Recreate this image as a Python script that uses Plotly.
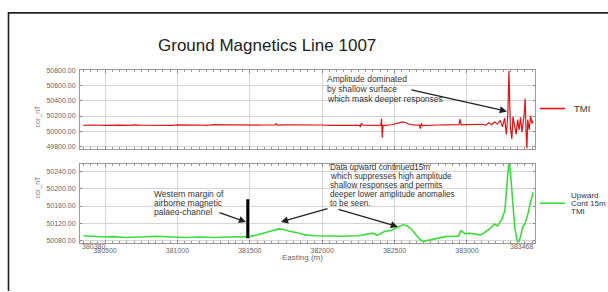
import plotly.graph_objects as go

# ---------------- data ----------------
tmi_easting = [380350, 380420, 380500, 380560, 380600, 380660, 380700, 380760, 380800, 380860,
               380900, 380960, 381000, 381050, 381100, 381150, 381200, 381250, 381300, 381350,
               381400, 381450, 381500, 381550, 381600, 381650, 381675, 381682, 381690, 381750,
               381800, 381850, 381900, 381950, 382000, 382050, 382100, 382150, 382200, 382240,
               382258, 382264, 382270, 382280, 382320, 382350, 382390, 382405, 382410, 382415,
               382420, 382450, 382480, 382530, 382555, 382580, 382600, 382630, 382660, 382672,
               382678, 382685, 382692, 382720, 382750, 382800, 382850, 382900, 382945, 382952,
               382960, 383000, 383050, 383080, 383100, 383130, 383150, 383170, 383190, 383210,
               383230, 383245, 383260, 383272, 383282, 383290, 383300, 383310, 383318, 383330,
               383340, 383350, 383360, 383370, 383380, 383395, 383402, 383408, 383414, 383420,
               383430, 383440, 383450, 383456]
tmi_values = [50078, 50082, 50076, 50081, 50080, 50077, 50083, 50079, 50078, 50082,
              50081, 50077, 50084, 50079, 50081, 50082, 50078, 50086, 50080, 50083,
              50083, 50079, 50078, 50081, 50082, 50079, 50084, 50100, 50080, 50083,
              50084, 50080, 50079, 50083, 50082, 50078, 50078, 50082, 50083, 50080,
              50076, 50055, 50106, 50080, 50082, 50083, 50081, 50078, 50165, 49915,
              50075, 50083, 50085, 50110, 50124, 50112, 50092, 50084, 50085, 50080,
              50035, 50104, 50075, 50079, 50080, 50082, 50083, 50086, 50085, 50160,
              50085, 50088, 50090, 50096, 50092, 50080, 50112, 50086, 50122, 50095,
              50142, 50058, 50172, 49958, 50205, 50790, 50050, 49900, 50192, 50060,
              49960, 50152, 50018, 50182, 49988, 50222, 50431, 50000, 49778, 50152,
              50020, 50202, 50100, 50140]

up_easting = [380350, 380420, 380500, 380560, 380650, 380700, 380750, 380850, 380950, 381050,
              381150, 381250, 381350, 381450, 381500, 381550, 381600, 381650, 381700, 381730,
              381780, 381830, 381880, 381950, 382050, 382150, 382250, 382300, 382350, 382380,
              382400, 382430, 382480, 382530, 382560, 382590, 382620, 382650, 382680, 382700,
              382750, 382800, 382850, 382900, 382940, 382960, 382985, 383020, 383060, 383090,
              383120, 383160, 383190, 383210, 383240, 383262, 383280, 383290, 383300, 383315,
              383330, 383345, 383360, 383372, 383385, 383400, 383420, 383440, 383458]
up_values = [50091, 50089, 50088, 50089, 50087, 50088, 50088, 50090, 50088, 50087,
             50088, 50087, 50088, 50088, 50089, 50093, 50098, 50103, 50107, 50106,
             50101, 50098, 50093, 50091, 50090, 50090, 50091, 50094, 50097, 50092,
             50096, 50101, 50104, 50112, 50117, 50113, 50105, 50092, 50081, 50078,
             50082, 50086, 50089, 50090, 50090, 50103, 50096, 50097, 50095, 50093,
             50098, 50108, 50118, 50114, 50128, 50150, 50225, 50262, 50240, 50170,
             50110, 50082, 50078, 50092, 50112, 50118, 50140, 50170, 50192]

x_grid_ticks = [380500, 381000, 381500, 382000, 382500, 383000]
x_range = [380327, 383470]
x_edge_labels = ["380380", "383468"]
top_ticks = [49800, 50000, 50200, 50400, 50600, 50800]
top_range = [49767, 50804]
bot_ticks = [50080, 50120, 50160, 50200, 50240]
bot_range = [50075, 50258]

title_text = "Ground Magnetics Line 1007"
y_title = "cor_nT"
x_title = "Easting (m)"
note_top = ["Amplitude dominated", "by shallow surface", "which mask deeper responses"]
note_west = ["Western margin of", "airborne magnetic", "palaeo-channel"]
note_up = ["Data upward continued15m", "which suppresses high amplitude",
           "shallow responses and permits", "deeper lower amplitude anomalies",
           "to be seen."]
legend_tmi = "TMI"
legend_up = ["Upward", "Cont 15m", "TMI"]
channel_margin_e = 381486
channel_bar_vals = [50085, 50176]

# ---------------- layout helpers ----------------
W, H = 608, 292
def fx(p):
    return p / W
def fy(p):
    return 1 - p / H

FONT = "Liberation Sans, Arial, sans-serif"
TICKFONT = dict(family=FONT, size=7, color="#666")
GRID = "#d4d4d4"
BORDER = "#9a9a9a"

fig = go.Figure()
fig.add_trace(go.Scatter(x=tmi_easting, y=tmi_values, mode="lines",
                         line=dict(color="#dd1515", width=1.2),
                         xaxis="x", yaxis="y", showlegend=False))
fig.add_trace(go.Scatter(x=up_easting, y=up_values, mode="lines",
                         line=dict(color="#3ddc3d", width=1.6),
                         xaxis="x2", yaxis="y2", showlegend=False))

xcommon = dict(range=x_range, tickvals=x_grid_ticks, tickformat="d", showgrid=True,
               gridcolor=GRID, gridwidth=1, showline=True, linecolor=BORDER, linewidth=1,
               mirror="allticks", ticks="inside", ticklen=3, tickcolor="#888",
               minor=dict(ticks="inside", ticklen=2, dtick=50, tick0=0, tickcolor="#999",
                          showgrid=False),
               zeroline=False, tickfont=TICKFONT, domain=[fx(80), fx(535)])
ycommon = dict(showgrid=True, gridcolor=GRID, gridwidth=1, showline=True,
               linecolor=BORDER, linewidth=1, mirror="allticks", ticks="inside",
               ticklen=2, tickcolor="#888", zeroline=False, tickfont=TICKFONT,
               tickformat=".2f", ticklabelstandoff=2)

fig.update_layout(
    width=W, height=H, margin=dict(l=0, r=0, t=0, b=0),
    paper_bgcolor="white", plot_bgcolor="white",
    xaxis=dict(**xcommon, anchor="y", showticklabels=False),
    yaxis=dict(**ycommon, anchor="x", range=top_range, tickvals=top_ticks,
               domain=[fy(148), fy(68)]),
    xaxis2=dict(**xcommon, anchor="y2", showticklabels=True, ticklabelstandoff=1),
    yaxis2=dict(**ycommon, anchor="x2", range=bot_range, tickvals=bot_ticks,
                domain=[fy(243), fy(163)]),
)

def label(text, x, y, size, color="#333", xanchor="center", yanchor="middle",
          angle=0, xref="paper"):
    return dict(text=text, x=x, y=y, xref=xref, yref="paper", xanchor=xanchor,
                yanchor=yanchor, align="left", textangle=angle, showarrow=False,
                font=dict(family=FONT, size=size, color=color))

def block(lines, x, y0, step, size):
    return [label(t, fx(x), fy(y0 + i * step), size, xanchor="left")
            for i, t in enumerate(lines)]

ann = []
ann.append(label(title_text, fx(267), fy(43), 17, "#222"))
ann.append(label(y_title, fx(38), fy(115), 7, "#777", angle=-90))
ann.append(label(y_title, fx(38), fy(187), 7, "#777", angle=-90))
ann.append(label(x_title, fx(302), fy(258), 8, "#666"))
ann.append(label(x_edge_labels[0], x_range[0], fy(247), 7, "#666", xanchor="left", xref="x2"))
ann.append(label(x_edge_labels[1], x_range[1], fy(247), 7, "#666", xanchor="right", xref="x2"))

ann += block(note_top, 325, 77.5, 9.7, 8.5)
ann += block(note_west, 152, 194, 9, 8.5)
ann += block(note_up, 328, 167, 9, 8.2)
ann += block(legend_up, 569, 195, 8, 8)
ann.append(label(legend_tmi, fx(572), fy(107), 9.5, xanchor="left"))

def arrow(xref, yref, tail, tip):
    return dict(x=tip[0], y=tip[1], ax=tail[0], ay=tail[1], xref=xref, yref=yref,
                axref=xref, ayref=yref, text="", showarrow=True, arrowhead=2,
                arrowsize=1.1, arrowwidth=1.3, arrowcolor="#222")

ann.append(arrow("x", "y", (382606, 50549), (383276, 50261)))
ann.append(arrow("x2", "y2", (381280, 50146), (381474, 50123)))
ann.append(arrow("x2", "y2", (382047, 50155), (381715, 50123)))
ann.append(arrow("x2", "y2", (382102, 50153), (382523, 50112)))

shapes = []
shapes.append(dict(type="line", xref="paper", yref="paper", x0=fx(540), x1=fx(565),
                   y0=fy(107), y1=fy(107), line=dict(color="#dd1515", width=1.6)))
shapes.append(dict(type="line", xref="paper", yref="paper", x0=fx(540), x1=fx(565),
                   y0=fy(203), y1=fy(203), line=dict(color="#3ddc3d", width=1.6)))
shapes.append(dict(type="line", xref="x2", yref="y2", x0=channel_margin_e, x1=channel_margin_e,
                   y0=channel_bar_vals[0], y1=channel_bar_vals[1],
                   line=dict(color="black", width=3)))
shapes.append(dict(type="path", xref="paper", yref="paper",
                   path=f"M {fx(8.5)} 0 L {fx(8.5)} {fy(10)} L 1.01 {fy(10)}",
                   line=dict(color="#222", width=1.6)))

fig.update_layout(annotations=ann, shapes=shapes)
fig.write_html("out.html", config={"displayModeBar": False},
               post_script="document.body.style.margin='0';document.body.style.padding='0';")
